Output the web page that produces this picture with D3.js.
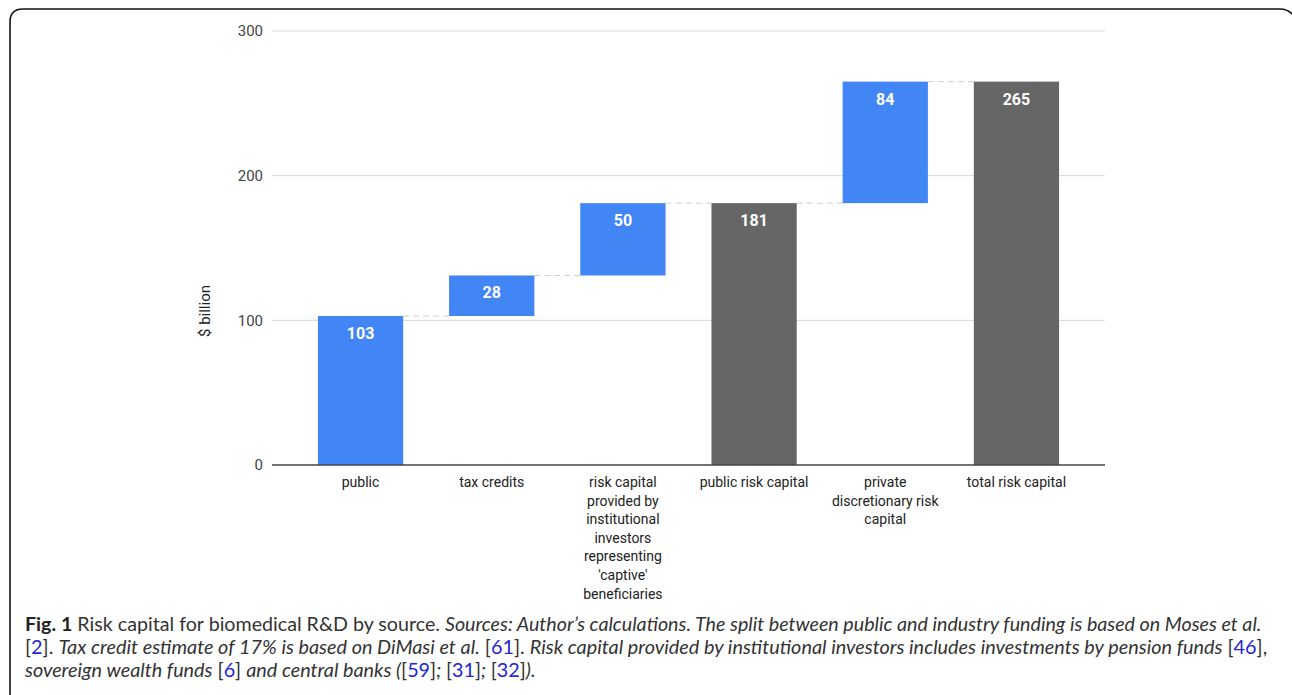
<!DOCTYPE html>
<html>
<head>
<meta charset="utf-8">
<script src="https://cdn.jsdelivr.net/npm/d3@7"></script>
<style>
  html, body { margin: 0; padding: 0; background: #fff; }
  svg { display: block; }
</style>
</head>
<body>
<svg id="chart" width="1292" height="695"></svg>
<script>
// ---- data ----
const categories = [
  "public",
  "tax credits",
  "risk capital\nprovided by\ninstitutional\ninvestors\nrepresenting\n'captive'\nbeneficiaries",
  "public risk capital",
  "private\ndiscretionary risk\ncapital",
  "total risk capital"
];
const values = [103, 28, 50, 181, 84, 265];
const barTypes = ["step", "step", "step", "total", "step", "total"];
const yTicks = [0, 100, 200, 300];
const yTitle = "$ billion";

// caption lines: [text, style] segments
const captionLines = [
  [["Fig. 1", "b"], [" Risk capital for biomedical R&D by source. ", "n"], ["Sources: Author\u2019s calculations. The split between public and industry funding is based on Moses et al.", "i"]],
  [["[", "n"], ["2", "l"], ["]. ", "n"], ["Tax credit estimate of 17% is based on DiMasi et al.", "i"], [" [", "n"], ["61", "l"], ["]. ", "n"], ["Risk capital provided by institutional investors includes investments by pension funds", "i"], [" [", "n"], ["46", "l"], ["],", "n"]],
  [["sovereign wealth funds", "i"], [" [", "n"], ["6", "l"], ["] ", "n"], ["and central banks (", "i"], ["[", "n"], ["59", "l"], ["]", "n"], ["; ", "i"], ["[", "n"], ["31", "l"], ["]", "n"], ["; ", "i"], ["[", "n"], ["32", "l"], ["]", "n"], [").", "i"]]
];
const captionLineEnds = [1262, 1268, 536];

// ---- layout ----
const svg = d3.select("#chart");
const plot = { left: 272, right: 1105, top: 31, bottom: 465 };
const colors = { step: "#4285f4", total: "#666666" };

// frame
svg.append("path")
  .attr("d", "M 10 720 L 10 22 Q 10 9 23 9 L 1280 9 Q 1291 9 1296 20")
  .attr("fill", "none").attr("stroke", "#111").attr("stroke-width", 1.6);

const x = d3.scaleBand().domain(categories).range([plot.left, plot.right]).padding(0.35);
const y = d3.scaleLinear().domain([0, 300]).range([plot.bottom, plot.top]);

// gridlines
svg.append("g").selectAll("line").data(yTicks.filter(t => t > 0)).join("line")
  .attr("x1", plot.left).attr("x2", plot.right)
  .attr("y1", d => y(d)).attr("y2", d => y(d))
  .attr("stroke", "#d9d9d9").attr("stroke-width", 1);

// y axis labels
const yAxis = d3.axisLeft(y).tickValues(yTicks).tickSize(0).tickPadding(9);
const ya = svg.append("g").attr("transform", `translate(${plot.left},0)`).call(yAxis);
ya.select(".domain").remove();
ya.selectAll("text").attr("font-family", "Roboto, sans-serif").attr("font-size", 15).attr("fill", "#444");

svg.append("text")
  .attr("transform", `translate(210,311) rotate(-90)`)
  .attr("text-anchor", "middle")
  .attr("font-family", "Roboto, sans-serif").attr("font-size", 15).attr("fill", "#222")
  .text(yTitle);

// compute bars
let running = 0;
const bars = categories.map((c, i) => {
  let y0, y1;
  if (barTypes[i] === "total") { y0 = 0; y1 = values[i]; running = values[i]; }
  else { y0 = running; y1 = running + values[i]; running = y1; }
  return { c, v: values[i], y0, y1, type: barTypes[i] };
});

// connectors
const conn = [];
for (let i = 0; i < bars.length - 1; i++) {
  conn.push({ x1: x(bars[i].c) + x.bandwidth(), x2: x(bars[i + 1].c), v: bars[i].y1 });
}
svg.append("g").selectAll("line").data(conn).join("line")
  .attr("x1", d => d.x1).attr("x2", d => d.x2)
  .attr("y1", d => y(d.v)).attr("y2", d => y(d.v))
  .attr("stroke", "#cfcfcf").attr("stroke-width", 1).attr("stroke-dasharray", "6,4");

// bars
svg.append("g").selectAll("rect").data(bars).join("rect")
  .attr("x", d => x(d.c)).attr("width", x.bandwidth())
  .attr("y", d => y(d.y1)).attr("height", d => y(d.y0) - y(d.y1))
  .attr("fill", d => colors[d.type]);

// value labels
svg.append("g").selectAll("text").data(bars).join("text")
  .attr("x", d => x(d.c) + x.bandwidth() / 2)
  .attr("y", d => y(d.y1) + 23)
  .attr("text-anchor", "middle")
  .attr("font-family", "Roboto, sans-serif").attr("font-weight", "bold").attr("font-size", 16)
  .attr("fill", "#fff")
  .text(d => d.v);

// baseline
svg.append("line").attr("x1", plot.left).attr("x2", plot.right)
  .attr("y1", y(0)).attr("y2", y(0)).attr("stroke", "#444").attr("stroke-width", 1.5);

// category labels
const xl = svg.append("g").selectAll("text").data(categories).join("text")
  .attr("x", d => x(d) + x.bandwidth() / 2)
  .attr("y", 487)
  .attr("text-anchor", "middle")
  .attr("font-family", "Roboto, sans-serif").attr("font-size", 14).attr("fill", "#222");
xl.each(function(d) {
  const t = d3.select(this);
  d.split("\n").forEach((line, k) => {
    t.append("tspan").attr("x", x(d) + x.bandwidth() / 2).attr("dy", k === 0 ? 0 : 18.6).text(line);
  });
});

// caption
const capBase = [631, 654, 677];
captionLines.forEach((segs, li) => {
  const t = svg.append("text").attr("x", 25).attr("y", capBase[li])
    .attr("font-family", "Lato, 'Open Sans', sans-serif").attr("font-size", 18).attr("fill", "#333");
  segs.forEach(([s, st]) => {
    const ts = t.append("tspan").text(s);
    if (st === "b") ts.attr("font-weight", "bold").attr("fill", "#222");
    if (st === "i") ts.attr("font-style", "italic");
    if (st === "l") ts.attr("fill", "#2424d8");
  });
  const w = t.node().getComputedTextLength();
  const target = captionLineEnds[li] - 25;
  t.attr("font-size", 18 * target / w);
});
</script>
</body>
</html>
